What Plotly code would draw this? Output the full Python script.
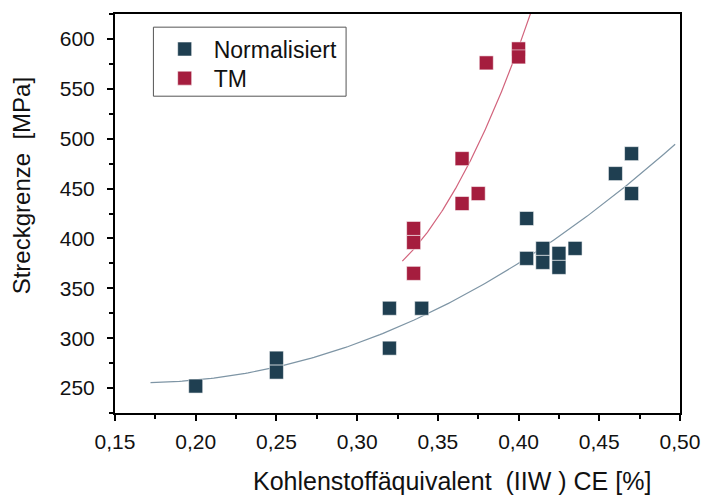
import numpy as np
import plotly.graph_objects as go

# --- data ---
norm_x = [0.20, 0.25, 0.25, 0.32, 0.32, 0.34, 0.405, 0.405, 0.415, 0.415, 0.425, 0.425, 0.435, 0.46, 0.47, 0.47]
norm_y = [252, 280, 266, 330, 290, 330, 380, 420, 390, 376, 385, 371, 390, 465, 485, 445]
tm_x = [0.335, 0.335, 0.335, 0.365, 0.365, 0.375, 0.38, 0.40, 0.40]
tm_y = [410, 396, 365, 480, 435, 445, 576, 590, 582]
norm_fit_range = [0.172, 0.497]
tm_fit_range = [0.328, 0.42]

x_tickvals = [0.15, 0.20, 0.25, 0.30, 0.35, 0.40, 0.45, 0.50]
y_tickvals = [250, 300, 350, 400, 450, 500, 550, 600]

C_NORM = "#1f3f51"
C_TM = "#a51d3e"
C_NORM_LINE = "#7e95a5"
C_TM_LINE = "#d2637c"
FONT = "Liberation Sans, Arial, sans-serif"

def quad_fit(xs, ys, rng):
    c = np.polyfit(xs, ys, 2)
    xx = np.linspace(rng[0], rng[1], 200)
    return xx, np.polyval(c, xx)

fig = go.Figure()

nx, ny = quad_fit(norm_x, norm_y, norm_fit_range)
tx, ty = quad_fit(tm_x, tm_y, tm_fit_range)

fig.add_trace(go.Scatter(x=nx, y=ny, mode="lines", line=dict(color=C_NORM_LINE, width=1.2),
                         showlegend=False, hoverinfo="skip"))
fig.add_trace(go.Scatter(x=tx, y=ty, mode="lines", line=dict(color=C_TM_LINE, width=1.2),
                         showlegend=False, hoverinfo="skip"))

fig.add_trace(go.Scatter(x=norm_x, y=norm_y, mode="markers", name="Normalisiert", legend="legend",
                         marker=dict(symbol="square", size=14, color=C_NORM,
                                     line=dict(color="rgba(255,255,255,0.55)", width=1))))
fig.add_trace(go.Scatter(x=tm_x, y=tm_y, mode="markers", name="TM", legend="legend2",
                         marker=dict(symbol="square", size=14, color=C_TM,
                                     line=dict(color="rgba(255,255,255,0.55)", width=1))))

axis_common = dict(
    showgrid=False, zeroline=False, showline=True, linecolor="black", linewidth=2,
    mirror=True, ticks="outside", ticklen=6, tickwidth=2, tickcolor="black",
    tickfont=dict(family=FONT, size=21, color="#111"),
)

fig.update_xaxes(range=[0.15, 0.50], tickvals=x_tickvals, tickformat=".2f", ticklabelstandoff=3,
                 minor=dict(ticks="outside", ticklen=4, tickwidth=2, tickcolor="black", dtick=0.025, tick0=0.15),
                 **axis_common)
fig.update_yaxes(range=[225, 625], tickvals=y_tickvals, ticklabelstandoff=8,
                 minor=dict(ticks="outside", ticklen=4, tickwidth=2, tickcolor="black", dtick=25, tick0=225),
                 **axis_common)

# legend frame (paper coordinates)
fig.add_shape(type="rect", xref="paper", yref="paper", x0=0.068, x1=0.409, y0=0.794, y1=0.967,
              line=dict(color="#555", width=1), fillcolor="rgba(0,0,0,0)", layer="above")

legend_style = dict(xanchor="left", yanchor="top", bgcolor="rgba(0,0,0,0)", borderwidth=0,
                    font=dict(family=FONT, size=23, color="#111"), itemwidth=48)

fig.update_layout(
    width=712, height=496,
    margin=dict(l=115, r=25, t=14, b=83),
    plot_bgcolor="white", paper_bgcolor="white",
    separators=",.",
    font=dict(family=FONT, size=20, color="#111"),
    legend=dict(x=0.072, y=0.966, **legend_style),
    legend2=dict(x=0.072, y=0.893, **legend_style),
    annotations=[
        dict(text="Kohlenstoffäquivalent  (IIW ) CE [%]", xref="paper", yref="paper",
             x=0.596, y=-0.211, xanchor="center", yanchor="bottom", showarrow=False,
             font=dict(family=FONT, size=25, color="#111")),
        dict(text="Streckgrenze  [MPa]", xref="paper", yref="paper", textangle=-90,
             x=-0.164, y=0.569, xanchor="center", yanchor="middle", showarrow=False,
             font=dict(family=FONT, size=24, color="#111")),
    ],
)

fig.write_html("out.html")
